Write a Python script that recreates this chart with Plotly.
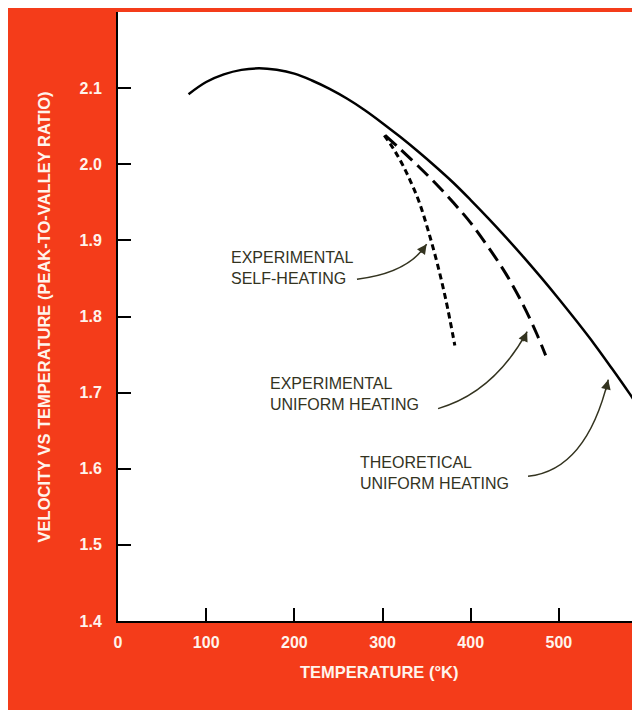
import plotly.graph_objects as go

# theoretical uniform heating (solid)
theory_temp = [80, 100, 120, 140, 160, 180, 200, 220, 240, 260, 280, 300, 320, 340,
               360, 380, 400, 420, 440, 460, 480, 500, 520, 540, 560, 580, 595]
theory_ratio = [2.092, 2.108, 2.118, 2.124, 2.126, 2.124, 2.119, 2.110, 2.099, 2.086,
                2.071, 2.054, 2.036, 2.017, 1.997, 1.976, 1.953, 1.929, 1.904, 1.878,
                1.851, 1.823, 1.794, 1.764, 1.732, 1.699, 1.673]

# experimental uniform heating (long dash)
uniform_temp = [303, 320, 340, 360, 380, 400, 420, 440, 460, 475, 485]
uniform_ratio = [2.038, 2.020, 1.998, 1.975, 1.950, 1.923, 1.891, 1.856, 1.814, 1.777, 1.749]

# experimental self-heating (short dash)
self_temp = [302, 312, 322, 332, 342, 352, 362, 372, 382]
self_ratio = [2.038, 2.021, 2.001, 1.977, 1.949, 1.912, 1.870, 1.821, 1.762]

x_ticks = [0, 100, 200, 300, 400, 500]
y_ticks = [1.4, 1.5, 1.6, 1.7, 1.8, 1.9, 2.0, 2.1]

RED = '#f43c1a'
INK = '#33331f'
LABEL = '#fff4ec'

fig = go.Figure()
fig.add_trace(go.Scatter(x=theory_temp, y=theory_ratio, mode='lines',
                         line=dict(color='black', width=2.5, shape='spline', smoothing=1)))
fig.add_trace(go.Scatter(x=uniform_temp, y=uniform_ratio, mode='lines',
                         line=dict(color='black', width=3, dash='15px,7px', shape='spline', smoothing=1)))
fig.add_trace(go.Scatter(x=self_temp, y=self_ratio, mode='lines',
                         line=dict(color='black', width=3, dash='6px,4px', shape='spline', smoothing=1)))

# curved callout arrows (quadratic paths) + arrowheads
arrows = [
    ((271, 1.849), (329, 1.857), (350, 1.895), (-7, 10)),
    ((363, 1.679), (426, 1.700), (464, 1.780), (-5, 11)),
    ((465, 1.590), (531, 1.598), (556, 1.717), (-3, 12)),
]
for (x0, y0), (cx, cy), (x1, y1), (ax, ay) in arrows:
    fig.add_shape(type='path', xref='x', yref='y',
                  path=f'M {x0},{y0} Q {cx},{cy} {x1},{y1}',
                  line=dict(color=INK, width=1.5))
    fig.add_annotation(x=x1, y=y1, ax=ax, ay=ay, text='', showarrow=True,
                       arrowhead=2, arrowsize=1.3, arrowwidth=1.5, arrowcolor=INK)

labels = [
    ('EXPERIMENTAL<br>SELF-HEATING', 126, 1.864),
    ('EXPERIMENTAL<br>UNIFORM HEATING', 170, 1.698),
    ('THEORETICAL<br>UNIFORM HEATING', 272, 1.595),
]
for txt, lx, ly in labels:
    fig.add_annotation(x=lx, y=ly, text=txt, showarrow=False, xanchor='left', yanchor='middle',
                       align='left', font=dict(family='Liberation Sans, Arial', size=16, color=INK))

# axis titles
title_font = dict(family='Liberation Sans, Arial', size=16.5, color=LABEL, weight='bold')
fig.add_annotation(xref='paper', yref='paper', x=-0.163, y=0.5, textangle=-90,
                   text='VELOCITY VS TEMPERATURE (PEAK-TO-VALLEY RATIO)', showarrow=False,
                   font=title_font)
fig.add_annotation(xref='paper', yref='paper', x=0.5, y=-0.084, yanchor='middle',
                   text='TEMPERATURE (°K)', showarrow=False, font=title_font)

tick_font = dict(family='Liberation Sans, Arial', size=16, color=LABEL, weight='bold')
fig.update_xaxes(range=[0, 592], tickvals=x_ticks, ticks='inside', ticklen=13, tickwidth=1.5,
                 tickcolor='black', showline=True, linecolor='black', linewidth=2,
                 showgrid=False, zeroline=False, tickfont=tick_font, ticklabelstandoff=6)
fig.update_yaxes(range=[1.4, 2.2], tickvals=y_ticks, tickformat='.1f', ticks='inside', ticklen=13,
                 tickwidth=1.5, tickcolor='black', showline=True, linecolor='black', linewidth=2,
                 showgrid=False, zeroline=False, tickfont=tick_font, ticklabelstandoff=11)

fig.update_layout(width=640, height=710, showlegend=False,
                  paper_bgcolor=RED, plot_bgcolor='white',
                  margin=dict(l=110, r=8, t=4, b=97, autoexpand=False))

fig.write_html('out.html')
